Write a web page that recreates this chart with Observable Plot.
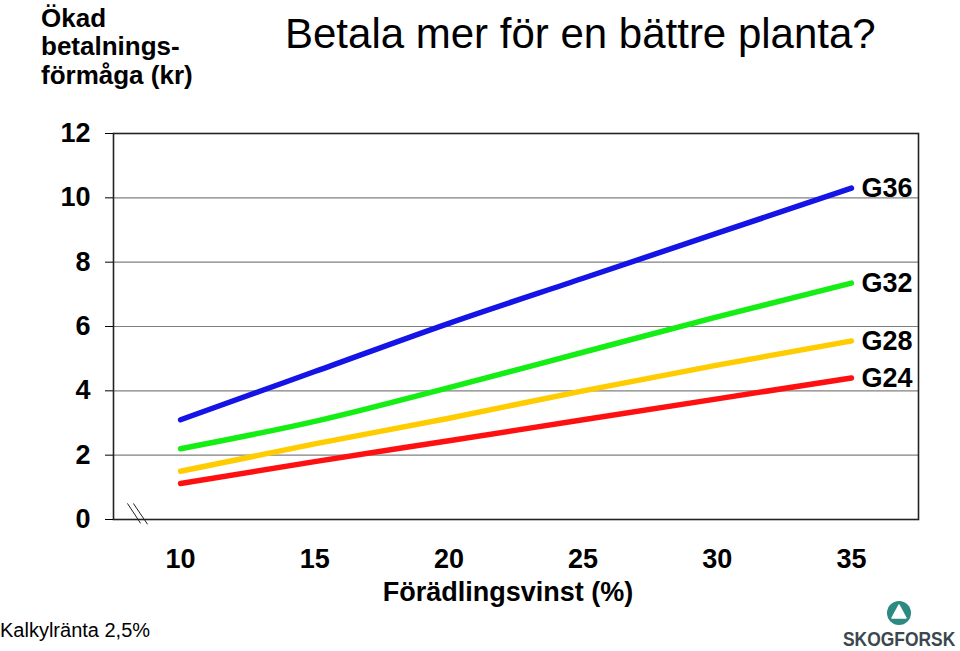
<!DOCTYPE html>
<html>
<head>
<meta charset="utf-8">
<script src="https://cdn.jsdelivr.net/npm/d3@7"></script>
<script src="https://cdn.jsdelivr.net/npm/@observablehq/plot@0.6"></script>
<style>
  body { margin: 0; background: #fff; }
  #wrap { position: relative; width: 960px; height: 651px; font-family: "Liberation Sans", Arial, sans-serif; }
  #wrap > svg { position: absolute; left: 0; top: 0; }
</style>
</head>
<body>
<div id="wrap"></div>
<script>
// ---- data ----
const xValues = [10, 15, 20, 25, 30, 35];
const seriesNames = ["G36", "G32", "G28", "G24"];
const g36 = [3.1, 4.6, 6.1, 7.5, 8.9, 10.3];
const g32 = [2.2, 3.05, 4.1, 5.2, 6.3, 7.35];
const g28 = [1.5, 2.35, 3.15, 4.0, 4.8, 5.55];
const g24 = [1.12, 1.8, 2.45, 3.1, 3.75, 4.4];
const seriesColors = ["#1414e6", "#14ee14", "#ffcc00", "#ff1010"];
const yTicks = [0, 2, 4, 6, 8, 10, 12];
const xTicks = [10, 15, 20, 25, 30, 35];
const gridValues = [2, 4, 6, 8, 10];
const breakX1 = [8.02, 8.24];
const breakX2 = [8.51, 8.77];
const breakY1 = [0.5, 0.5];
const breakY2 = [-0.12, -0.15];

const titleText = "Betala mer för en bättre planta?";
const yTitleLines = ["Ökad", "betalnings-", "förmåga (kr)"];
const xTitle = "Förädlingsvinst (%)";
const caption = "Kalkylränta 2,5%";
const logoText = "SKOGFORSK";

// ---- build tables ----
const valuesBySeries = [g36, g32, g28, g24];
const rows = [];
seriesNames.forEach((s, i) => {
  xValues.forEach((x, j) => rows.push({ s, x, y: valuesBySeries[i][j] }));
});
const lastRows = seriesNames.map((s, i) => ({ s, x: xValues[xValues.length - 1], y: valuesBySeries[i][xValues.length - 1] }));
const breaks = breakX1.map((x1, i) => ({ x1, x2: breakX2[i], y1: breakY1[i], y2: breakY2[i] }));

const font = "Liberation Sans, Arial, sans-serif";

const chart = Plot.plot({
  width: 960,
  height: 651,
  marginLeft: 113,
  marginRight: 42,
  marginTop: 133,
  marginBottom: 132,
  style: { fontFamily: font, background: "transparent", overflow: "visible", color: "#000" },
  x: { domain: [7.5, 37.5] },
  y: { domain: [0, 12] },
  color: { domain: seriesNames, range: seriesColors },
  marks: [
    Plot.ruleY(gridValues, { stroke: "#808080", strokeWidth: 1.2, strokeOpacity: 1 }),
    Plot.frame({ stroke: "#222", strokeWidth: 1.6 }),
    Plot.axisY(yTicks, { tickSize: 8, tickPadding: 15, fontSize: 27, fontWeight: "bold", label: null, fontFamily: font }),
    Plot.axisX(xTicks, { tickSize: 0, tickPadding: 29, fontSize: 27, fontWeight: "bold", label: null, fontFamily: font }),
    Plot.line(rows, { x: "x", y: "y", z: "s", stroke: "s", strokeWidth: 5.5, strokeLinecap: "round", curve: "monotone-x" }),
    Plot.text(lastRows, { x: "x", y: "y", text: "s", dx: 10, textAnchor: "start", fontSize: 27, fontWeight: "bold", fill: "#000", fontFamily: font }),
    Plot.link(breaks, { x1: "x1", y1: "y1", x2: "x2", y2: "y2", stroke: "#222", strokeWidth: 1, clip: false })
  ]
});

const wrap = document.getElementById("wrap");
wrap.appendChild(chart);

// ---- overlay: titles, caption, logo ----
const ns = "http://www.w3.org/2000/svg";
const ov = document.createElementNS(ns, "svg");
ov.setAttribute("width", 960);
ov.setAttribute("height", 651);
ov.style.position = "absolute";
ov.style.left = "0";
ov.style.top = "0";
ov.style.pointerEvents = "none";
wrap.appendChild(ov);

function addText(str, x, y, opts) {
  const t = document.createElementNS(ns, "text");
  t.setAttribute("x", x);
  t.setAttribute("y", y);
  t.setAttribute("font-family", opts.family || font);
  t.setAttribute("font-size", opts.size);
  t.setAttribute("font-weight", opts.weight || "normal");
  t.setAttribute("fill", opts.fill || "#000");
  if (opts.anchor) t.setAttribute("text-anchor", opts.anchor);
  if (opts.transform) t.setAttribute("transform", opts.transform);
  t.textContent = str;
  ov.appendChild(t);
  return t;
}

addText(titleText, 285, 48, { size: 42 });
const yBase = [27, 55, 84];
yTitleLines.forEach((l, i) => addText(l, 41, yBase[i], { size: 26, weight: "bold" }));
addText(xTitle, 508, 601, { size: 27, weight: "bold", anchor: "middle" });
addText(caption, 0, 637, { size: 20 });

// logo
const circ = document.createElementNS(ns, "circle");
circ.setAttribute("cx", 899); circ.setAttribute("cy", 613); circ.setAttribute("r", 12);
circ.setAttribute("fill", "#2b8a82");
ov.appendChild(circ);
const tri = document.createElementNS(ns, "path");
tri.setAttribute("d", "M899,605 L892,618 L906,618 Z");
tri.setAttribute("fill", "#fff");
tri.setAttribute("stroke", "#fff");
tri.setAttribute("stroke-linejoin", "round");
tri.setAttribute("stroke-width", "1.5");
ov.appendChild(tri);
addText(logoText, 0, 0, { size: 21, weight: "bold", fill: "#3b4750", transform: "translate(843,646) scale(0.83,1)" });
</script>
</body>
</html>
